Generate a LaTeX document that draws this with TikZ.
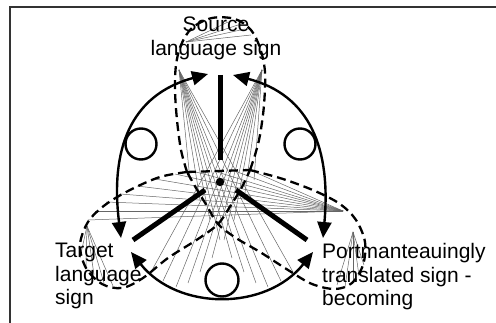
\documentclass[tikz,border=0pt]{standalone}
\usepackage{fontspec}
\setmainfont{Liberation Sans}
\usetikzlibrary{arrows.meta}
\begin{document}
\begin{tikzpicture}[x=1pt,y=-1pt,
  arcline/.style={line width=2.4pt, {Triangle[length=16pt,width=14pt]}-{Triangle[length=16pt,width=14pt]}},
  petal/.style={line width=2.3pt, dash pattern=on 9pt off 5pt},
  spoke/.style={line width=5pt},
  fanline/.style={line width=0.5pt, black!60},
  loopc/.style={line width=2.4pt},
  lbl/.style={font=\fontsize{21}{23.5}\selectfont, inner sep=0pt, text=black}]
\useasboundingbox (0,0) rectangle (496,323);
% frame
\coordinate (frA) at (10,340);
\coordinate (frB) at (10,7);
\coordinate (frC) at (510,7);
\draw[line width=1.4pt, black!80] (frA) -- (frB) -- (frC);

% fan apexes
\coordinate (A1) at (179,70);
\coordinate (A2) at (262,70);
\coordinate (A3) at (343,211);
\coordinate (S1) at (186,42);
\coordinate (S2) at (87,226);
\coordinate (S3) at (353,232);

% big fans
\foreach \x/\y in {190/180,200/200,210/220,220/240,232/258,244/272,256/283,268/287,281/281,293/272}
  \draw[fanline] (A1) -- (\x,\y);
\foreach \x/\y in {254/180,244/200,234/220,224/240,212/258,200/272,188/283,176/287,163/281,151/272}
  \draw[fanline] (A2) -- (\x,\y);
\foreach \x/\y in {250/170,232/170,214/171,196/172,175/174,155/179,137/186,120/194,106/202,95/211,88/220}
  \draw[fanline] (A3) -- (\x,\y);
% small fans
\foreach \x/\y in {228/22,238/25,245/29,251/35}
  \draw[fanline] (S1) -- (\x,\y);
\foreach \x/\y in {80/258,86/266,94/275,104/283,113/286}
  \draw[fanline] (S2) -- (\x,\y);
\foreach \x/\y in {337/285,345/287,353/283,359/276,364/265}
  \draw[fanline] (S3) -- (\x,\y);

% dashed petals
\draw[petal] plot[smooth, tension=0.55] coordinates {(187,172) (181,150) (177,120) (175,90) (176,65) (181,45) (192,28) (212,18) (235,19) (251,30) (260,48) (265,72) (264,105) (260,135) (255,155) (250,170)};
\draw[petal] (187,172) -- (250,170);
\draw[petal] plot[smooth, tension=0.55] coordinates {(187,172) (160,177) (130,190) (105,205) (88,222) (80,245) (86,268) (102,284) (122,288) (143,278) (168,258) (198,239) (218,224) (231,205) (242,187) (250,170)};
\draw[petal] plot[smooth, tension=0.55] coordinates {(250,170) (283,179) (315,191) (340,204) (356,220) (365,242) (363,265) (352,283) (335,289) (312,284) (288,270) (260,252) (236,238) (218,224) (207,206) (196,188) (187,172)};

% small loops
\draw[loopc] (141,144) circle[radius=15.5];
\draw[loopc] (300,144) circle[radius=15.5];
\draw[loopc] (222,280) circle[radius=16.5];

% arrowed arcs
\coordinate (aL) at (121,238);
\coordinate (aTL) at (208,74);
\coordinate (aTR) at (233,75);
\coordinate (aR) at (323,238);
\coordinate (aBL) at (131,252);
\coordinate (aBR) at (313,252);
\draw[arcline] (aL) .. controls (110,150) and (130,95) .. (aTL);
\draw[arcline] (aR) .. controls (331,150) and (311,95) .. (aTR);
\draw[arcline] (aBL) .. controls (178,311) and (266,311) .. (aBR);

% spokes and centre
\coordinate (C) at (220,182);
\draw[spoke] (220,75) -- (220,160);
\draw[spoke] (205,190) -- (133,240);
\draw[spoke] (236,190) -- (307,240);
\fill (C) circle[radius=4.2];

% labels
\node[lbl, anchor=base] (src) at (216,32) {\begin{tabular}[t]{@{}c@{}}Source\\language sign\end{tabular}};
\node[lbl, anchor=base west] (tgt) at (55,258) {\begin{tabular}[t]{@{}l@{}}Target\\language\\sign\end{tabular}};
\node[lbl, anchor=base west] (pmt) at (322,259) {\begin{tabular}[t]{@{}l@{}}Portmanteauingly\\translated sign -\\becoming\end{tabular}};
\end{tikzpicture}
\end{document}
